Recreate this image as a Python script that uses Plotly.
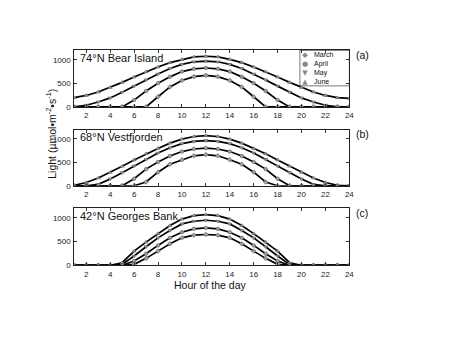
import plotly.graph_objects as go

hours = list(range(1, 25))
months = ["March", "April", "May", "June"]

# Panel (a) 74N Bear Island
march_a = [0, 0, 0, 0, 0, 0, 0, 215, 424, 562, 642, 670, 642, 562, 424, 215, 0, 0, 0, 0, 0, 0, 0, 0]
april_a = [0, 0, 0, 0, 0, 145, 337, 503, 638, 750, 809, 826, 809, 750, 638, 503, 337, 145, 0, 0, 0, 0, 0, 0]
may_a = [0, 35, 104, 191, 309, 441, 573, 698, 816, 903, 958, 972, 958, 903, 816, 698, 573, 441, 309, 191, 104, 35, 0, 0]
june_a = [195, 243, 316, 413, 521, 635, 746, 847, 941, 1010, 1063, 1076, 1063, 1010, 941, 847, 746, 635, 521, 413, 316, 243, 195, 180]

# Panel (b) 68N Vestfjorden
march_b = [0, 0, 0, 0, 0, 0, 80, 290, 458, 555, 640, 665, 640, 555, 458, 290, 80, 0, 0, 0, 0, 0, 0, 0]
april_b = [0, 0, 0, 0, 0, 150, 355, 507, 635, 730, 785, 805, 785, 730, 635, 507, 355, 150, 0, 0, 0, 0, 0, 0]
may_b = [0, 0, 30, 145, 280, 420, 562, 698, 812, 900, 947, 965, 947, 900, 812, 698, 562, 420, 280, 145, 30, 0, 0, 0]
june_b = [10, 70, 165, 285, 417, 552, 684, 798, 910, 996, 1052, 1069, 1052, 996, 910, 798, 684, 552, 417, 285, 165, 70, 10, 0]

# Panel (c) 42N Georges Bank
march_c = [0, 0, 0, 0, 0, 21, 147, 300, 455, 580, 636, 650, 636, 580, 455, 300, 147, 21, 0, 0, 0, 0, 0, 0]
april_c = [0, 0, 0, 0, 0, 91, 245, 420, 580, 699, 769, 790, 769, 699, 580, 420, 245, 91, 0, 0, 0, 0, 0, 0]
may_c = [0, 0, 0, 0, 20, 196, 392, 580, 734, 874, 930, 951, 930, 874, 734, 580, 392, 196, 20, 0, 0, 0, 0, 0]
june_c = [0, 0, 0, 0, 55, 300, 490, 670, 840, 975, 1049, 1070, 1049, 975, 840, 670, 490, 300, 55, 0, 0, 0, 0, 0]

panels = [
    ("74°N Bear Island", "(a)", [march_a, april_a, may_a, june_a]),
    ("68°N Vestfjorden", "(b)", [march_b, april_b, may_b, june_b]),
    ("42°N Georges Bank", "(c)", [march_c, april_c, may_c, june_c]),
]

x_ticks = list(range(2, 25, 2))
y_ticks = [0, 500, 1000]

W, H = 475, 356
FONT = "Liberation Sans, Arial, sans-serif"

def px_x(p):
    return p / W

def px_y(p):
    return 1 - p / H

x_dom = [px_x(67), px_x(345)]
panel_px = [(43, 100.3), (123.3, 180.3), (203.3, 261.0)]

symbols = ["diamond", "circle", "triangle-down", "triangle-up"]

fig = go.Figure()
annotations = []
layout = {}

for i, (title, tag, series) in enumerate(panels):
    sfx = "" if i == 0 else str(i + 1)
    top, bot = panel_px[i]
    for j, vals in enumerate(series):
        fig.add_trace(go.Scatter(
            x=hours, y=vals, mode="lines+markers",
            name=months[j], showlegend=False,
            line=dict(color="black", width=1.7),
            marker=dict(symbol=symbols[j], size=3.5, color="#a0a0a0",
                        line=dict(color="#666666", width=0.7)),
            xaxis="x" + sfx, yaxis="y" + sfx,
        ))
    layout["xaxis" + sfx] = dict(
        domain=x_dom, anchor="y" + sfx, range=[1, 24],
        tickvals=x_ticks, ticktext=[str(t) for t in x_ticks],
        ticks="inside", ticklen=3, tickwidth=0.8, tickcolor="#333",
        showline=True, linecolor="#222", linewidth=1, mirror="ticks",
        showgrid=False, zeroline=False,
        tickfont=dict(family=FONT, size=8, color="#222"),
        ticklabelstandoff=1,
    )
    layout["yaxis" + sfx] = dict(
        domain=[px_y(bot), px_y(top)], anchor="x" + sfx, range=[0, 1200],
        tickvals=y_ticks, ticktext=[str(t) for t in y_ticks],
        ticks="inside", ticklen=3, tickwidth=0.8, tickcolor="#333",
        showline=True, linecolor="#222", linewidth=1, mirror="ticks",
        showgrid=False, zeroline=False,
        tickfont=dict(family=FONT, size=8, color="#222"),
        ticklabelstandoff=1,
    )
    annotations.append(dict(
        text=title, xref="paper", yref="paper", x=px_x(71), y=px_y(top + 7.5),
        xanchor="left", yanchor="middle", showarrow=False,
        font=dict(family=FONT, size=11, color="#111"),
    ))
    annotations.append(dict(
        text=tag, xref="paper", yref="paper", x=px_x(358), y=px_y(top + 4.5),
        xanchor="center", yanchor="middle", showarrow=False,
        font=dict(family=FONT, size=10.5, color="#111"),
    ))

annotations.append(dict(
    text="Hour of the day", xref="paper", yref="paper", x=px_x(205), y=px_y(281),
    xanchor="center", yanchor="middle", showarrow=False,
    font=dict(family=FONT, size=10.5, color="#111"),
))
annotations.append(dict(
    text="Light (µmol•m<sup>-2</sup>•s<sup>-1</sup>)", xref="paper", yref="paper",
    x=px_x(43), y=px_y(128), textangle=-90,
    xanchor="center", yanchor="middle", showarrow=False,
    font=dict(family=FONT, size=10.5, color="#111"),
))

# manual legend inside panel (a): one text block for glyphs, one for labels
legend_glyphs = ["◆", "●", "▼", "▲"]
annotations.append(dict(
    text="<br>".join(legend_glyphs), xref="paper", yref="paper",
    x=px_x(300), y=px_y(61), xanchor="center", yanchor="middle", align="center",
    showarrow=False, font=dict(family="DejaVu Sans", size=7, color="#8a8a8a"),
))
annotations.append(dict(
    text="<br>".join(months), xref="paper", yref="paper",
    x=px_x(307), y=px_y(61), xanchor="left", yanchor="middle", align="left",
    showarrow=False, font=dict(family=FONT, size=7, color="#111"),
))

shapes = [dict(type="rect", xref="paper", yref="paper",
               x0=px_x(295), x1=px_x(345), y0=px_y(79), y1=px_y(43),
               line=dict(color="#555", width=0.8), fillcolor="white", layer="below")]

fig.update_layout(
    width=W, height=H, margin=dict(l=0, r=0, t=0, b=0),
    paper_bgcolor="white", plot_bgcolor="rgba(0,0,0,0)",
    showlegend=False, annotations=annotations, shapes=shapes,
    font=dict(family=FONT),
    **layout,
)

fig.write_html("out.html")
